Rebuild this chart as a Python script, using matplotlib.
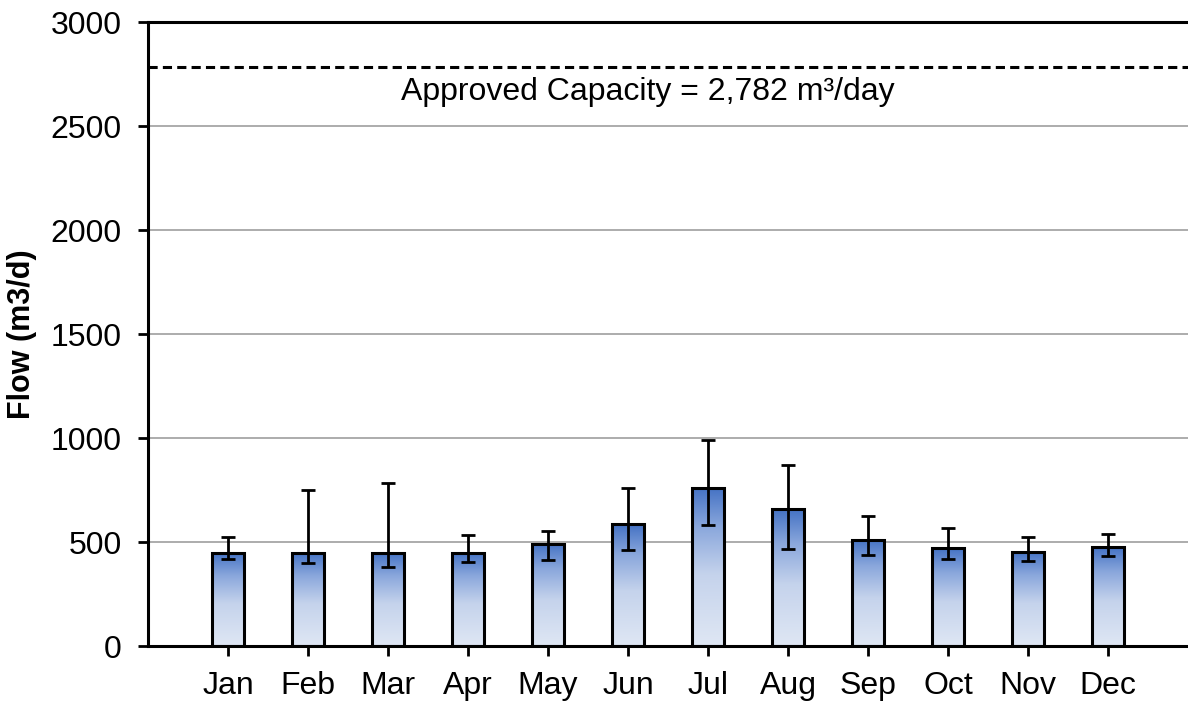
import numpy as np
import matplotlib
matplotlib.use("Agg")
import matplotlib.pyplot as plt
from matplotlib.colors import LinearSegmentedColormap

plt.rcParams['font.family'] = ['Liberation Sans', 'DejaVu Sans']

months = ['Jan', 'Feb', 'Mar', 'Apr', 'May', 'Jun',
          'Jul', 'Aug', 'Sep', 'Oct', 'Nov', 'Dec']
mean_flow = [448, 448, 448, 448, 492, 585, 760, 657, 511, 470, 453, 475]
max_flow = [526, 748, 782, 534, 554, 758, 990, 870, 623, 566, 524, 538]
min_flow = [418, 398, 378, 405, 415, 460, 580, 468, 439, 417, 410, 434]
approved_capacity = 2782

fig = plt.figure(figsize=(11.88, 7.02), dpi=100)
ax = fig.add_axes([148 / 1188, 56 / 702, 1040 / 1188, 624 / 702])

x = np.arange(len(months))
width = 0.41
mean = np.array(mean_flow)
err = [mean - np.array(min_flow), np.array(max_flow) - mean]

# gradient fill, dark at the top of each bar
cmap = LinearSegmentedColormap.from_list(
    'bar', [(0.0, '#DFE7F4'), (0.45, '#C5D3EC'), (0.75, '#8AA7DC'), (1.0, '#4472C4')])
grad = np.linspace(0, 1, 256).reshape(-1, 1)
for xi, h in zip(x, mean):
    ax.imshow(grad, extent=[xi - width / 2, xi + width / 2, 0, h],
              origin='lower', aspect='auto', cmap=cmap, zorder=2)

ax.bar(x, mean, width, facecolor='none', edgecolor='black', linewidth=2.2, zorder=3)
ax.errorbar(x, mean, yerr=err, fmt='none', ecolor='black', elinewidth=2.0,
            capsize=5, capthick=2.0, zorder=4)

ax.axhline(approved_capacity, color='black', linestyle=(0, (3, 1.7)), linewidth=2.2, zorder=4)
ax.text(5.25, 2665, 'Approved Capacity = 2,782 m³/day', ha='center', va='center',
        fontsize=23)

ax.set_xlim(-1, 12)
ax.set_ylim(0, 3000)
ax.set_yticks(np.arange(0, 3001, 500))
ax.set_xticks(x)
ax.set_xticklabels(months)
ax.tick_params(axis='both', labelsize=23, length=7, width=2, direction='out')
ax.tick_params(axis='y', pad=12)
ax.tick_params(axis='x', pad=11)
ax.set_ylabel('Flow (m3/d)', fontsize=22, fontweight='bold', labelpad=10)
ax.yaxis.grid(True, color='#A6A6A6', linewidth=1.3, zorder=0)
ax.set_axisbelow(True)

for side in ['left', 'bottom', 'top']:
    ax.spines[side].set_linewidth(2.2)
ax.spines['right'].set_visible(False)

fig.savefig('out.png', dpi=100)
